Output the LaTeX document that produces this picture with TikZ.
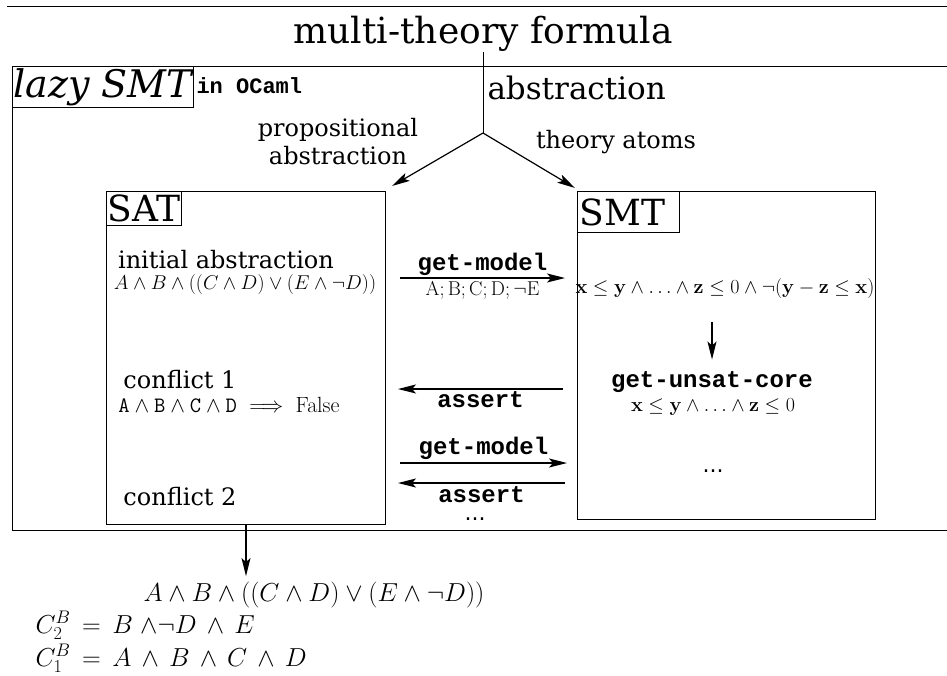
\RequirePackage{fix-cm}
\documentclass[tikz,border=0pt]{standalone}
\usepackage[no-math]{fontspec}
\usepackage{amsmath}
\usetikzlibrary{arrows.meta, positioning, calc}
\setmainfont{DejaVu Serif}
\newfontfamily\codefont{Liberation Mono}
\newfontfamily\dotfont{DejaVu Sans}

\begin{document}
\begin{tikzpicture}[x=1pt, y=-1pt, line width=1pt]
  \tikzstyle{box}=[draw, anchor=north west, inner sep=0pt]
  \tikzstyle{tag}=[draw, anchor=north west, inner sep=1pt]
  \tikzstyle{txt}=[anchor=base, inner sep=0pt,
    font=\fontsize{24}{28}\selectfont]
  \tikzstyle{cmd}=[anchor=base, inner sep=0pt,
    font=\codefont\bfseries\fontsize{24}{28}\selectfont]
  \tikzstyle{frm}=[anchor=base, inner sep=0pt,
    font=\fontsize{20}{24}\selectfont]
  \tikzstyle{res}=[anchor=base west, inner sep=0pt,
    font=\fontsize{26}{30}\selectfont]
  \tikzstyle{msg}=[line width=1.2pt, -{Stealth[length=18pt,width=9pt,inset=4pt]}]

  \useasboundingbox (0,0) rectangle (947,675);
  \draw (7,6) -- (947,6);

  \node[anchor=base, inner sep=0pt, font=\fontsize{36}{40}\selectfont]
    (title) at (483,43) {multi-theory formula};

  % lazy SMT frame
  \node[box, minimum width=960, minimum height=464] (lazy) at (12,66) {};
  \node[tag, minimum width=177, minimum height=41,
    font=\itshape\fontsize{38}{40}\selectfont] (lazytag) at (lazy.north west)
    {lazy SMT};
  \node[cmd, anchor=base west, font=\codefont\bfseries\fontsize{22}{26}\selectfont]
    (ocaml) at (196,93) {in OCaml};

  \node[anchor=base west, inner sep=0pt, font=\fontsize{31}{36}\selectfont]
    (abs) at (487,99) {abstraction};
  \node[txt, anchor=north, align=center] (prop) at (338,118)
    {propositional\\abstraction};
  \node[txt] (atoms) at (616,148) {theory atoms};
  \coordinate (split) at (483,133);

  % solvers
  \node[box, minimum width=279, minimum height=333] (sat) at (106,191) {};
  \node[tag, minimum width=74, minimum height=34,
    font=\fontsize{36}{40}\selectfont] (sattag) at (sat.north west) {SAT};
  \node[box, minimum width=298, minimum height=328] (smt) at (577,191) {};
  \node[tag, text width=98pt, minimum height=41, inner sep=2pt,
    font=\fontsize{36}{40}\selectfont] (smttag) at (smt.north west) {SMT};

  \draw (title.south) -- (split);
  \draw[msg] (split) -- ([shift={(6,-5)}]sat.north east);
  \draw[msg] (split) -- ([shift={(-2,-3)}]smt.north west);

  % SAT side
  \node[txt] (init) at (226,268) {initial abstraction};
  \node[frm] (initf) at (245,289)
    {$A \wedge B \wedge ((C \wedge D) \vee (E \wedge \neg D))$};
  \node[txt] (conf1) at (180,388) {conflict 1};
  \node[frm, font=\fontsize{22}{26}\selectfont] (conf1f) at (229,412)
    {$\mathtt{A} \wedge \mathtt{B} \wedge \mathtt{C} \wedge \mathtt{D}
      \implies \mathrm{False}$};
  \node[txt] (conf2) at (180,505) {conflict 2};

  % SMT side
  \node[frm] (smtf) at (725,293)
    {$\mathbf{x} \leq \mathbf{y} \wedge \ldots \wedge \mathbf{z} \leq 0
      \wedge \neg(\mathbf{y} - \mathbf{z} \leq \mathbf{x})$};
  \node[cmd] (core) at (712,387) {get-unsat-core};
  \node[frm] (coref) at (713,411)
    {$\mathbf{x} \leq \mathbf{y} \wedge \ldots \wedge \mathbf{z} \leq 0$};
  \node[txt, font=\dotfont\fontsize{22}{26}\selectfont] (more2) at (713,472) {...};
  \draw[msg, shorten <=24pt, shorten >=11pt] (smtf.south -| core.north) -- (core.north);

  % messages between the two
  \coordinate (gm1a) at (400,278);  \coordinate (gm1b) at (565,278);
  \coordinate (as1a) at (563,389);  \coordinate (as1b) at (398,389);
  \coordinate (gm2a) at (400,463);  \coordinate (gm2b) at (567,463);
  \coordinate (as2a) at (565,483);  \coordinate (as2b) at (398,483);

  \draw[msg] (gm1a) -- node[cmd, anchor=south, inner sep=2pt] (gm1) {get-model}
    node[anchor=north, inner sep=3pt, font=\fontsize{20}{22}\selectfont] (model)
    {$\mathrm{A}; \mathrm{B}; \mathrm{C}; \mathrm{D}; \neg\mathrm{E}$} (gm1b);
  \draw[msg] (as1a) -- node[cmd, anchor=north, inner sep=2pt] (as1) {assert} (as1b);
  \draw[msg] (gm2a) -- node[cmd, anchor=south, inner sep=3pt] (gm2) {get-model} (gm2b);
  \draw[msg] (as2a) -- node[cmd, anchor=north, inner sep=3pt] (as2) {assert} (as2b);
  \node[txt, font=\dotfont\fontsize{22}{26}\selectfont] (more1) at (475,520) {...};

  % resulting clauses
  \node[anchor=base, inner sep=0pt, font=\fontsize{26}{30}\selectfont] (f0) at (314,601)
    {$A \wedge B \wedge ((C \wedge D) \vee (E \wedge \neg D))$};
  \node[res] (cl2) at (35,633) {$C^B_2 \,=\, B \;{\wedge}\neg D \,\wedge\, E$};
  \node[res] (cl1) at (35,666) {$C^B_1 \,=\, A \,\wedge\, B \,\wedge\, C \,\wedge\, D$};
  \draw[msg, shorten >=5pt] (sat.south) -- (sat.south |- f0.north);
\end{tikzpicture}
\end{document}
